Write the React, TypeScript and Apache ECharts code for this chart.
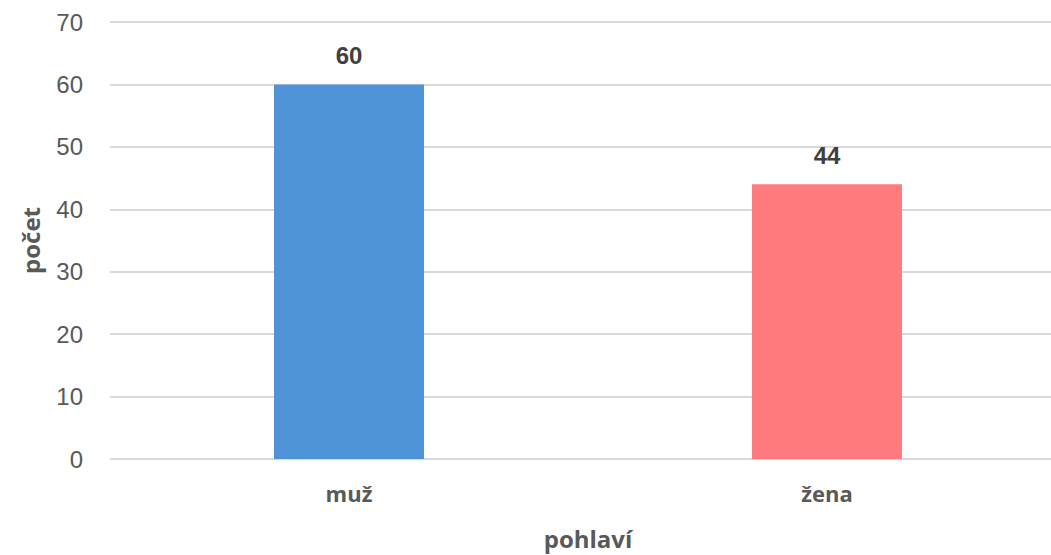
import React, { useEffect, useRef } from "react";
import * as echarts from "echarts";

const categories = ["muž", "žena"];
const values = [60, 44];
const barColors = ["#4F94D9", "#FF7B80"];
const yTicks = { min: 0, max: 70, interval: 10 };

export default function App() {
  const ref = useRef<HTMLDivElement>(null);
  useEffect(() => {
    if (!ref.current) return;
    const chart = echarts.init(ref.current, null, { renderer: "svg" });
    chart.setOption({
      animation: false,
      backgroundColor: "#ffffff",
      grid: { left: 110, right: 0, top: 22, bottom: 83, containLabel: false },
      xAxis: {
        type: "category",
        data: categories,
        name: "pohlaví",
        nameLocation: "middle",
        nameGap: 67,
        nameTextStyle: { fontFamily: "Open Sans", fontWeight: "bold", fontSize: 24, color: "#595959" },
        axisLine: { show: false },
        axisTick: { show: false },
        axisLabel: { margin: 23, fontFamily: "Open Sans", fontWeight: "bold", fontSize: 22, color: "#595959" },
      },
      yAxis: {
        type: "value",
        min: yTicks.min,
        max: yTicks.max,
        interval: yTicks.interval,
        name: "počet",
        nameLocation: "middle",
        nameRotate: 90,
        nameGap: 68,
        nameTextStyle: { fontFamily: "Open Sans", fontWeight: "bold", fontSize: 24, color: "#595959" },
        axisLine: { show: false },
        axisTick: { show: false },
        axisLabel: { margin: 27, fontFamily: "Liberation Sans", fontSize: 24, color: "#595959" },
        splitLine: { lineStyle: { color: "#D9D9D9", width: 2 } },
      },
      series: [
        {
          type: "bar",
          barWidth: 150,
          data: values.map((v, i) => ({ value: v, itemStyle: { color: barColors[i] } })),
          label: {
            show: true,
            position: "top",
            distance: 17,
            fontFamily: "Liberation Sans",
            fontWeight: "bold",
            fontSize: 24,
            color: "#404040",
          },
        },
      ],
    });
    return () => chart.dispose();
  }, []);
  return (
    <div style={{ position: "absolute", left: 0, top: 0, width: 1051, height: 555, overflow: "hidden" }}>
      <div ref={ref} style={{ width: 1066, height: 555 }} />
    </div>
  );
}
